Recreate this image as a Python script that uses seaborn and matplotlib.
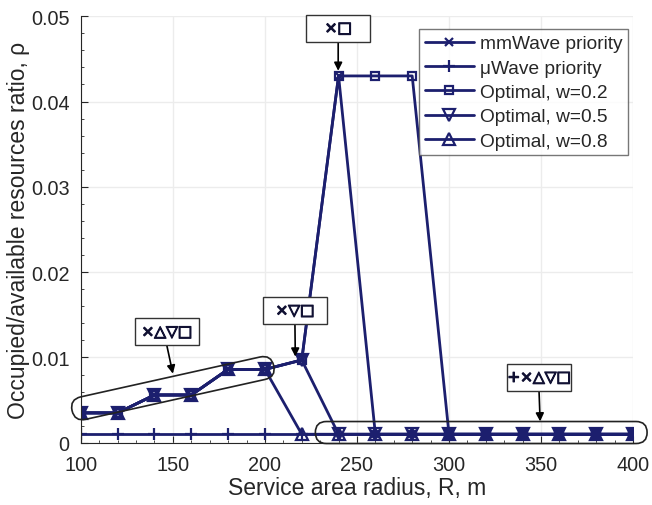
import numpy as np
import matplotlib
matplotlib.use("Agg")
import matplotlib.pyplot as plt
import matplotlib.patheffects as pe
import seaborn as sns
from matplotlib.patches import FancyBboxPatch, Rectangle
from matplotlib.transforms import Affine2D, IdentityTransform

# === Data ===
radius = [100, 120, 140, 160, 180, 200, 220, 240, 260, 280, 300, 320, 340, 360, 380, 400]
mmwave = [0.0035, 0.0035, 0.0056, 0.0056, 0.0086, 0.0086, 0.0097, 0.043,
          0.001, 0.001, 0.001, 0.001, 0.001, 0.001, 0.001, 0.001]
uwave = [0.001, 0.001, 0.001, 0.001, 0.001, 0.001, 0.001, 0.001,
         0.001, 0.001, 0.001, 0.001, 0.001, 0.001, 0.001, 0.001]
opt_w02 = [0.0035, 0.0035, 0.0056, 0.0056, 0.0086, 0.0086, 0.0097, 0.043,
           0.043, 0.043, 0.001, 0.001, 0.001, 0.001, 0.001, 0.001]
opt_w05 = [0.0035, 0.0035, 0.0056, 0.0056, 0.0086, 0.0086, 0.0097, 0.001,
           0.001, 0.001, 0.001, 0.001, 0.001, 0.001, 0.001, 0.001]
opt_w08 = [0.0035, 0.0035, 0.0056, 0.0056, 0.0086, 0.0086, 0.001, 0.001,
           0.001, 0.001, 0.001, 0.001, 0.001, 0.001, 0.001, 0.001]

series_labels = ['mmWave priority', 'μWave priority', 'Optimal, w=0.2',
                 'Optimal, w=0.5', 'Optimal, w=0.8']
x_ticks = [100, 150, 200, 250, 300, 350, 400]
y_ticks = [0, 0.01, 0.02, 0.03, 0.04, 0.05]
y_ticklabels = ['0', '0.01', '0.02', '0.03', '0.04', '0.05']

# === Style ===
sns.set_style("ticks")
plt.rcParams['font.family'] = ['Liberation Sans', 'DejaVu Sans']
navy = '#1c1f6e'
axis_grey = '#262626'

fig = plt.figure(figsize=(6.52, 5.06), dpi=100)
ax = fig.add_axes([0.124, 0.123, 0.847, 0.843])

markers = ['x', '+', 's', 'v', '^']
sizes = [6, 9, 5.8, 8, 8]
for vals, lab, mk, ms in zip([mmwave, uwave, opt_w02, opt_w05, opt_w08],
                             series_labels, markers, sizes):
    sns.lineplot(x=radius, y=vals, ax=ax, label=lab, color=navy, lw=2,
                 marker=mk, markersize=ms, markerfacecolor='none',
                 markeredgecolor=navy, markeredgewidth=1.6)

# === Axes ===
ax.set_xlim(100, 400)
ax.set_ylim(0, 0.05)
ax.set_xticks(x_ticks)
ax.set_yticks(y_ticks)
ax.set_yticklabels(y_ticklabels)
ax.minorticks_on()
ax.tick_params(which='major', labelsize=14.3, colors=axis_grey, direction='in', length=5)
ax.tick_params(axis='x', which='major', pad=9)
ax.tick_params(axis='y', which='major', pad=8)
ax.tick_params(which='minor', direction='in', length=2.5, colors=axis_grey)
ax.grid(True, which='major', color='#ececec', lw=1)
ax.set_axisbelow(True)
for s in ['top', 'right']:
    ax.spines[s].set_visible(False)
for s in ['left', 'bottom']:
    ax.spines[s].set_color(axis_grey)
ax.set_xlabel('Service area radius, R, m', fontsize=16.5, color=axis_grey, labelpad=1)
ax.set_ylabel('Occupied/available resources ratio, ρ', fontsize=16.5, color=axis_grey, labelpad=1)

leg = ax.legend(loc='upper right', bbox_to_anchor=(0.991, 0.9696), fontsize=13.8,
                frameon=True, fancybox=False, edgecolor='#555555', handlelength=2.6,
                borderpad=0.3, labelspacing=0.36, handletextpad=0.28, borderaxespad=0)
leg.get_frame().set_linewidth(1)

# === Annotation boxes (fixed-size boxes in pixels, arrow from box to point) ===
fig.canvas.draw()
box_w, box_h = 64, 27

def label_box(text, center, tip):
    cx, cy = ax.transData.transform(center)
    fig.patches.append(Rectangle((cx - box_w / 2, cy - box_h / 2), box_w, box_h,
                                 fc='white', ec='#333333', lw=1, zorder=6,
                                 transform=IdentityTransform()))
    fig.text(cx, cy, text, transform=IdentityTransform(), ha='center', va='center',
             fontsize=11, color='#111133', family=['DejaVu Sans'], zorder=7,
             path_effects=[pe.withStroke(linewidth=0.9, foreground='#111133')])
    base = ax.transData.inverted().transform((cx, cy - box_h / 2))
    ax.annotate('', xy=tip, xytext=base,
                arrowprops=dict(arrowstyle='-|>', color='black', lw=1.2,
                                mutation_scale=12, shrinkA=0, shrinkB=0),
                zorder=6, annotation_clip=False)

label_box('×□', (239.8, 0.0486), (239.8, 0.0436))
label_box('×▽□', (216.3, 0.0155), (216.5, 0.0101))
label_box('×△▽□', (146.7, 0.0130), (150, 0.0081))
label_box('+×△▽□', (348.9, 0.00767), (349.5, 0.0025))

# === Rounded capsules around point groups ===
def capsule(p0, p1, half, extra):
    a = ax.transData.transform(p0)
    b = ax.transData.transform(p1)
    d = b - a
    length = np.hypot(*d)
    ang = np.degrees(np.arctan2(d[1], d[0]))
    c = (a + b) / 2
    w = length + 2 * extra
    patch = FancyBboxPatch((c[0] - w / 2, c[1] - half), w, 2 * half,
                           boxstyle=f'round,pad=0,rounding_size={half}',
                           fc='none', ec='#222222', lw=1.2, zorder=5,
                           transform=Affine2D().rotate_deg_around(c[0], c[1], ang) + IdentityTransform())
    fig.patches.append(patch)

capsule((100, 0.0040), (200, 0.0088), 11.5, 9)
capsule((235, 0.0012), (400, 0.0012), 11, 14)

fig.savefig('out.png', dpi=100)
